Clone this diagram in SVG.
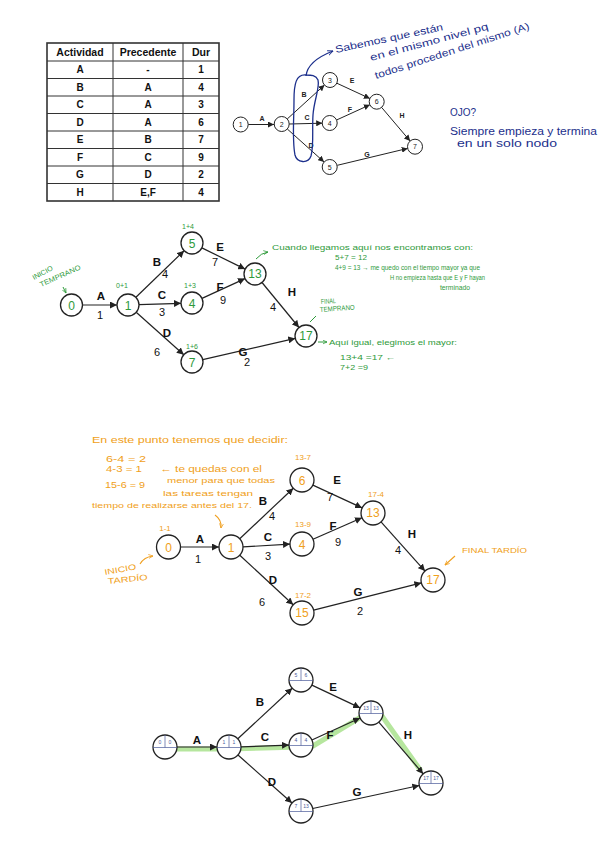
<svg xmlns="http://www.w3.org/2000/svg" width="600" height="848" viewBox="0 0 600 848">
<style>
text{font-family:"Liberation Sans",Arial,sans-serif}
.th{font-size:10.5px;font-weight:bold;text-anchor:middle;fill:#111}
.td{font-size:10px;font-weight:bold;text-anchor:middle;fill:#111}
.tl{stroke:#333;stroke-width:1;fill:none}
.edge{stroke:#222;stroke-width:1;fill:none;marker-end:url(#ah)}
.edge2{stroke:#222;stroke-width:1.2;fill:none;marker-end:url(#ah2)}
.nd{fill:#fff;stroke:#222;stroke-width:1}
.nd2{fill:#fff;stroke:#222;stroke-width:1.3}
.n1{font-size:7px;text-anchor:middle;fill:#222}
.l1{font-size:7px;font-weight:bold;text-anchor:middle;fill:#222}
.lb{font-size:11.5px;font-weight:bold;text-anchor:middle;fill:#111}
.w{font-size:11px;text-anchor:middle;fill:#111}
.gn{font-size:12px;text-anchor:middle;fill:#2e9a3a}
.on{font-size:12px;text-anchor:middle;fill:#f0a020}
.g{font-size:8px;fill:#2e9a3a}
.gs{font-size:7px;fill:#2e9a3a}
.o{font-size:9px;fill:#f0a020}
.os{font-size:8px;fill:#f0a020}
.b{font-size:10px;fill:#1c2f8c}
.gl{stroke:#2e9a3a;stroke-width:1;fill:none}
.ol{stroke:#f0a020;stroke-width:1.1;fill:none}
.bl{stroke:#1c2f8c;stroke-width:1.3;fill:none}
.dv{stroke:#4a5a9a;stroke-width:0.7}
.nn{font-size:5px;text-anchor:middle;fill:#4a5a9a}
</style>
<defs>
<marker id="ah" viewBox="0 0 10 10" refX="10" refY="5" markerWidth="6" markerHeight="6" orient="auto" markerUnits="userSpaceOnUse"><path d="M0,0L10,5L0,10z" fill="#222"/></marker>
<marker id="ah2" viewBox="0 0 10 10" refX="10" refY="5" markerWidth="7" markerHeight="7" orient="auto" markerUnits="userSpaceOnUse"><path d="M0,0L10,5L0,10z" fill="#222"/></marker>
<marker id="ahb" viewBox="0 0 10 10" refX="9" refY="5" markerWidth="6" markerHeight="6" orient="auto" markerUnits="userSpaceOnUse"><path d="M0,1L9,5L0,9" fill="none" stroke="#1c2f8c" stroke-width="1.5"/></marker>
<marker id="ahg" viewBox="0 0 10 10" refX="9" refY="5" markerWidth="5" markerHeight="5" orient="auto" markerUnits="userSpaceOnUse"><path d="M0,1L9,5L0,9" fill="none" stroke="#2e9a3a" stroke-width="1.5"/></marker>
<marker id="aho" viewBox="0 0 10 10" refX="9" refY="5" markerWidth="5" markerHeight="5" orient="auto" markerUnits="userSpaceOnUse"><path d="M0,1L9,5L0,9" fill="none" stroke="#f0a020" stroke-width="1.5"/></marker>
</defs>
<rect width="600" height="848" fill="#fff"/>

<!-- Table -->
<g id="table">
<rect x="47" y="43" width="172" height="158" fill="#fff" stroke="#333" stroke-width="1.6"/>
<path class="tl" d="M113,43V201M183,43V201M47,61H219M47,78.5H219M47,96H219M47,113.5H219M47,131H219M47,148.5H219M47,166H219M47,183.5H219"/>
<text class="th" x="80" y="55.5">Actividad</text><text class="th" x="148" y="55.5">Precedente</text><text class="th" x="201" y="55.5">Dur</text>
<text class="td" x="80" y="73.3">A</text><text class="td" x="148" y="73.3">-</text><text class="td" x="201" y="73.3">1</text>
<text class="td" x="80" y="90.8">B</text><text class="td" x="148" y="90.8">A</text><text class="td" x="201" y="90.8">4</text>
<text class="td" x="80" y="108.3">C</text><text class="td" x="148" y="108.3">A</text><text class="td" x="201" y="108.3">3</text>
<text class="td" x="80" y="125.8">D</text><text class="td" x="148" y="125.8">A</text><text class="td" x="201" y="125.8">6</text>
<text class="td" x="80" y="143.3">E</text><text class="td" x="148" y="143.3">B</text><text class="td" x="201" y="143.3">7</text>
<text class="td" x="80" y="160.8">F</text><text class="td" x="148" y="160.8">C</text><text class="td" x="201" y="160.8">9</text>
<text class="td" x="80" y="178.3">G</text><text class="td" x="148" y="178.3">D</text><text class="td" x="201" y="178.3">2</text>
<text class="td" x="80" y="195.8">H</text><text class="td" x="148" y="195.8">E,F</text><text class="td" x="201" y="195.8">4</text>
</g>

<!-- Network 1 -->
<g id="net1-edges">
<path class="edge" d="M248.2,124.5L274,124.5"/>
<path class="edge" d="M287.2,119L324.5,85"/>
<path class="edge" d="M289.2,124L322.2,123.2"/>
<path class="edge" d="M287.3,129L324.1,162"/>
<path class="edge" d="M336.8,83.2L369.9,98.5"/>
<path class="edge" d="M336.8,119.9L369.9,104.8"/>
<path class="edge" d="M381.6,107.4L410.1,141"/>
<path class="edge" d="M337.3,165.3L407.7,148.4"/>
<text class="l1" x="262" y="120.5">A</text>
<text class="l1" x="304" y="96.5">B</text>
<text class="l1" x="307" y="119.5">C</text>
<text class="l1" x="311" y="147.5">D</text>
<text class="l1" x="352" y="82.5">E</text>
<text class="l1" x="350" y="111.5">F</text>
<text class="l1" x="402" y="117.5">H</text>
<text class="l1" x="367" y="156.5">G</text>
</g>
<g id="n1-1"><circle class="nd" cx="240.7" cy="124.5" r="7.5"/><text class="n1" x="240.7" y="127">1</text></g>
<g id="n1-2"><circle class="nd" cx="281.7" cy="124" r="7.5"/><text class="n1" x="281.7" y="126.5">2</text></g>
<g id="n1-3"><circle class="nd" cx="330" cy="80" r="7.5"/><text class="n1" x="330" y="82.5">3</text></g>
<g id="n1-4"><circle class="nd" cx="329.7" cy="123" r="7.5"/><text class="n1" x="329.7" y="125.5">4</text></g>
<g id="n1-5"><circle class="nd" cx="329.7" cy="167" r="7.5"/><text class="n1" x="329.7" y="169.5">5</text></g>
<g id="n1-6"><circle class="nd" cx="376.7" cy="101.7" r="7.5"/><text class="n1" x="376.7" y="104.2">6</text></g>
<g id="n1-7"><circle class="nd" cx="415" cy="146.7" r="7.5"/><text class="n1" x="415" y="149.2">7</text></g>

<!-- Blue annotations -->
<g id="blue-notes">
<path class="bl" d="M306,75C296,74 294,84 294,100C294,120 292,140 295,155C297,163 308,164 311,156C314,145 312,130 313,115C314,100 320,88 318,80C316,75 311,75 306,75Z"/>
<path class="bl" d="M306,76C307,66 315,58 333,51" marker-end="url(#ahb)"/>
<text class="b" font-size="11" transform="translate(336,53) rotate(-12)" textLength="110" lengthAdjust="spacingAndGlyphs">Sabemos que están</text>
<text class="b" font-size="8.5" transform="translate(371,61) rotate(-15)" textLength="122" lengthAdjust="spacingAndGlyphs">en el mismo nivel pq</text>
<text class="b" font-size="8.5" transform="translate(376,79) rotate(-18)" textLength="162" lengthAdjust="spacingAndGlyphs">todos proceden del mismo (A)</text>
<text class="b" x="450" y="116">OJO?</text>
<text class="b" x="450" y="135" textLength="147" lengthAdjust="spacingAndGlyphs">Siempre empieza y termina</text>
<text class="b" x="457" y="147" textLength="100" lengthAdjust="spacingAndGlyphs">en un solo nodo</text>
</g>

<!-- Network 2 -->
<g id="net2-edges">
<path class="edge2" d="M82,305L117,305"/>
<path class="edge2" d="M135.9,297.3L184.1,250.7"/>
<path class="edge2" d="M139,304.7L181,303.3"/>
<path class="edge2" d="M136.2,312.3L183.8,354.7"/>
<path class="edge2" d="M201.9,247.9L245.1,269.1"/>
<path class="edge2" d="M202,298.4L245,278.6"/>
<path class="edge2" d="M262,282.5L299,327.5"/>
<path class="edge2" d="M202.7,359.6L295.3,338.4"/>
<text class="lb" x="101" y="300">A</text><text class="w" x="100" y="319">1</text>
<text class="lb" x="157" y="266">B</text><text class="w" x="165" y="278">4</text>
<text class="lb" x="162" y="299">C</text><text class="w" x="162" y="316">3</text>
<text class="lb" x="167" y="337">D</text><text class="w" x="157" y="356">6</text>
<text class="lb" x="220" y="251">E</text><text class="w" x="215" y="266">7</text>
<text class="lb" x="220" y="291">F</text><text class="w" x="223" y="304">9</text>
<text class="lb" x="243" y="356">G</text><text class="w" x="247" y="366">2</text>
<text class="lb" x="292" y="296">H</text><text class="w" x="273" y="311">4</text>
</g>
<g id="n2-0"><circle class="nd2" cx="71.5" cy="305" r="11"/><text class="gn" x="71.5" y="309.5">0</text></g>
<g id="n2-1"><circle class="nd2" cx="128" cy="305" r="11"/><text class="gn" x="128" y="309.5">1</text></g>
<g id="n2-5"><circle class="nd2" cx="192" cy="243" r="11"/><text class="gn" x="192" y="247.5">5</text></g>
<g id="n2-4"><circle class="nd2" cx="192" cy="303" r="11"/><text class="gn" x="192" y="307.5">4</text></g>
<g id="n2-7"><circle class="nd2" cx="192" cy="362" r="11"/><text class="gn" x="192" y="366.5">7</text></g>
<g id="n2-13"><circle class="nd2" cx="255" cy="274" r="11"/><text class="gn" x="255" y="278" font-size="10">13</text></g>
<g id="n2-17"><circle class="nd2" cx="306" cy="336" r="11"/><text class="gn" x="306" y="340" font-size="10">17</text></g>

<g id="green-notes">
<text class="gs" transform="translate(34,280) rotate(-28)" textLength="22" lengthAdjust="spacingAndGlyphs">INICIO</text>
<text class="gs" transform="translate(41,287) rotate(-24)" textLength="44" lengthAdjust="spacingAndGlyphs">TEMPRANO</text>
<path class="gl" d="M63,287L66,293" marker-end="url(#ahg)"/>
<text class="gs" x="122" y="287.5" text-anchor="middle">0+1</text>
<text class="gs" x="188" y="228.5" text-anchor="middle">1+4</text>
<text class="gs" x="190" y="287.5" text-anchor="middle">1+3</text>
<text class="gs" x="192" y="349" text-anchor="middle">1+6</text>
<path class="gl" d="M256,259Q261,253 268,252" marker-end="url(#ahg)"/>
<text class="g" x="272" y="250" textLength="201" lengthAdjust="spacingAndGlyphs">Cuando llegamos aquí nos encontramos con:</text>
<text class="gs" x="335" y="259.5" textLength="32" lengthAdjust="spacingAndGlyphs">5+7 = 12</text>
<text class="gs" x="335" y="269.5" textLength="145" lengthAdjust="spacingAndGlyphs">4+9 = 13 → me quedo con el tiempo mayor ya que</text>
<text class="gs" x="390" y="279.5" textLength="95" lengthAdjust="spacingAndGlyphs">H no empieza hasta que E y F hayan</text>
<text class="gs" x="440" y="289.5" textLength="30" lengthAdjust="spacingAndGlyphs">terminado</text>
<text class="gs" transform="translate(321,304) rotate(-4)" textLength="15" lengthAdjust="spacingAndGlyphs">FINAL</text>
<text class="gs" transform="translate(320,312) rotate(-4)" textLength="35" lengthAdjust="spacingAndGlyphs">TEMPRANO</text>
<path class="gl" d="M316,316L310,322"/>
<path class="gl" d="M318,342L327,342" marker-end="url(#ahg)"/>
<text class="g" x="329" y="344.5" textLength="128" lengthAdjust="spacingAndGlyphs">Aquí igual, elegimos el mayor:</text>
<text class="gs" x="340" y="359.5" textLength="56" lengthAdjust="spacingAndGlyphs">13+4 =17 ←</text>
<text class="gs" x="340" y="369.5" textLength="28" lengthAdjust="spacingAndGlyphs">7+2 =9</text>
</g>

<!-- Network 3 -->
<g id="net3-edges">
<path class="edge2" d="M180,547L219,547"/>
<path class="edge2" d="M239.7,538.8L293.3,488.2"/>
<path class="edge2" d="M243,546.9L290,544.1"/>
<path class="edge2" d="M239.8,555.2L293.2,604.8"/>
<path class="edge2" d="M312.9,485.1L362.1,507.9"/>
<path class="edge2" d="M313,539.2L362,517.8"/>
<path class="edge2" d="M381,521.9L425,571.1"/>
<path class="edge2" d="M313.6,610.1L421.4,582.9"/>
<text class="lb" x="200" y="542.5">A</text><text class="w" x="198" y="563">1</text>
<text class="lb" x="263" y="505">B</text><text class="w" x="272" y="519.5">4</text>
<text class="lb" x="268" y="540.5">C</text><text class="w" x="268" y="560">3</text>
<text class="lb" x="273" y="584">D</text><text class="w" x="262" y="606">6</text>
<text class="lb" x="337" y="483.5">E</text><text class="w" x="330" y="501">7</text>
<text class="lb" x="333" y="530">F</text><text class="w" x="338" y="545.5">9</text>
<text class="lb" x="358" y="596">G</text><text class="w" x="360" y="614.5">2</text>
<text class="lb" x="412" y="537.5">H</text><text class="w" x="398" y="554">4</text>
</g>
<g id="n3-0"><circle class="nd2" cx="168.5" cy="547" r="12"/><text class="on" x="168.5" y="551.5">0</text></g>
<g id="n3-1"><circle class="nd2" cx="231" cy="547" r="12"/><text class="on" x="231" y="551.5">1</text></g>
<g id="n3-6"><circle class="nd2" cx="302" cy="480" r="12"/><text class="on" x="302" y="484.5" font-size="13">6</text></g>
<g id="n3-4"><circle class="nd2" cx="302" cy="544" r="12"/><text class="on" x="302" y="548.5" font-size="13">4</text></g>
<g id="n3-15"><circle class="nd2" cx="302" cy="613" r="12"/><text class="on" x="302" y="617" font-size="11">15</text></g>
<g id="n3-13"><circle class="nd2" cx="373" cy="513" r="12"/><text class="on" x="373" y="517" font-size="11">13</text></g>
<g id="n3-17"><circle class="nd2" cx="433" cy="580" r="12"/><text class="on" x="433" y="584" font-size="11">17</text></g>

<g id="orange-notes">
<text class="o" x="92" y="443" textLength="196" lengthAdjust="spacingAndGlyphs">En este punto tenemos que decidir:</text>
<text class="o" x="106" y="461.5" textLength="40" lengthAdjust="spacingAndGlyphs">6-4 = 2</text>
<text class="o" x="106" y="472" textLength="36" lengthAdjust="spacingAndGlyphs">4-3 = 1</text>
<text class="o" x="160" y="471.5" textLength="102" lengthAdjust="spacingAndGlyphs">← te quedas con el</text>
<text class="o" x="105" y="488" textLength="40" lengthAdjust="spacingAndGlyphs">15-6 = 9</text>
<text class="os" x="167" y="483" textLength="108" lengthAdjust="spacingAndGlyphs">menor para que todas</text>
<text class="os" x="163" y="496" textLength="90" lengthAdjust="spacingAndGlyphs">las tareas tengan</text>
<text class="os" x="92" y="508" textLength="160" lengthAdjust="spacingAndGlyphs">tiempo de realizarse antes del 17.</text>
<path class="ol" d="M215,515Q222,520 221,528" marker-end="url(#aho)"/>
<text class="os" x="165" y="531" text-anchor="middle">1-1</text>
<text class="os" x="303" y="460" text-anchor="middle">13-7</text>
<text class="os" x="303" y="527" text-anchor="middle">13-9</text>
<text class="os" x="303" y="598" text-anchor="middle">17-2</text>
<text class="os" x="376" y="497" text-anchor="middle">17-4</text>
<path class="ol" d="M140,564Q144,557 153,556" marker-end="url(#aho)"/>
<text class="os" transform="translate(105,575) rotate(-10)" textLength="32" lengthAdjust="spacingAndGlyphs">INICIO</text>
<text class="os" transform="translate(108,584) rotate(-6)" textLength="40" lengthAdjust="spacingAndGlyphs">TARDÍO</text>
<path class="ol" d="M455,556L445,565" marker-end="url(#aho)"/>
<text class="os" x="462" y="553" textLength="65" lengthAdjust="spacingAndGlyphs">FINAL TARDÍO</text>
</g>

<!-- Network 4 -->
<g id="net4-edges">
<path d="M155,749L229,749L301,747L313,746L361,717L382,716L421,771" fill="none" stroke="#8fd86a" stroke-width="5" stroke-opacity="0.65" stroke-linejoin="round"/>
<path class="edge2" d="M177,747L217,747"/>
<path class="edge2" d="M237.8,738.8L292.2,688.2"/>
<path class="edge2" d="M241,746.9L289,745.1"/>
<path class="edge2" d="M238,755L292,803"/>
<path class="edge2" d="M311.9,685.1L360.1,707.9"/>
<path class="edge2" d="M311.9,740L360.1,718"/>
<path class="edge2" d="M378.8,722.1L423.2,773.9"/>
<path class="edge2" d="M312.7,808.5L419.3,785.5"/>
<text class="lb" x="197" y="744">A</text>
<text class="lb" x="260" y="706">B</text>
<text class="lb" x="265" y="741">C</text>
<text class="lb" x="272" y="786">D</text>
<text class="lb" x="333" y="691">E</text>
<text class="lb" x="330" y="739">F</text>
<text class="lb" x="357" y="796">G</text>
<text class="lb" x="408" y="739">H</text>
</g>
<g id="n4-1"><circle class="nd2" cx="165" cy="747" r="12"/><path class="dv" d="M153,747.5H177M165,735V747.5"/><text class="nn" x="160" y="744">0</text><text class="nn" x="170" y="744">0</text></g>
<g id="n4-2"><circle class="nd2" cx="229" cy="747" r="12"/><path class="dv" d="M217,747.5H241M229,735V747.5"/><text class="nn" x="224" y="744">1</text><text class="nn" x="234" y="744">1</text></g>
<g id="n4-3"><circle class="nd2" cx="301" cy="680" r="12"/><path class="dv" d="M289,680.5H313M301,668V680.5"/><text class="nn" x="296" y="677">5</text><text class="nn" x="306" y="677">6</text></g>
<g id="n4-4"><circle class="nd2" cx="301" cy="745" r="12"/><path class="dv" d="M289,745.5H313M301,733V745.5"/><text class="nn" x="296" y="742">4</text><text class="nn" x="306" y="742">4</text></g>
<g id="n4-5"><circle class="nd2" cx="301" cy="811" r="12"/><path class="dv" d="M289,811.5H313M301,799V811.5"/><text class="nn" x="296" y="808">7</text><text class="nn" x="306" y="808">13</text></g>
<g id="n4-6"><circle class="nd2" cx="371" cy="713" r="12"/><path class="dv" d="M359,713.5H383M371,701V713.5"/><text class="nn" x="366" y="710">13</text><text class="nn" x="376" y="710">13</text></g>
<g id="n4-7"><circle class="nd2" cx="431" cy="783" r="12"/><path class="dv" d="M419,783.5H443M431,771V783.5"/><text class="nn" x="426" y="780">17</text><text class="nn" x="436" y="780">17</text></g>
</svg>
